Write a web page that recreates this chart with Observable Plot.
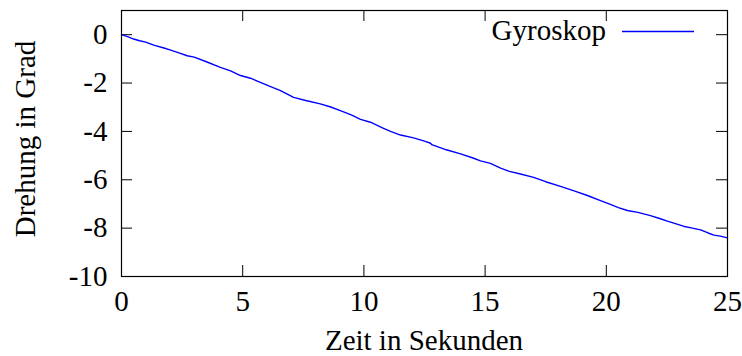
<!DOCTYPE html>
<html><head><meta charset="utf-8">
<script src="https://cdn.jsdelivr.net/npm/d3@7"></script>
<script src="https://cdn.jsdelivr.net/npm/@observablehq/plot@0.6"></script>
<style>body{margin:0;background:#fff;} svg{display:block;} svg text{font-family:"Liberation Serif", serif !important;}</style>
</head><body><div id="chart"></div>
<script>
const timeValues = [0,0.25,0.5,0.75,1.0,1.33,1.75,2.0,2.4,2.71,3.0,3.5,4.08,4.5,4.91,5.32,5.73,6.1,6.56,7.1,7.6,8.2,8.6,9.03,9.5,9.86,10.27,10.81,11.1,11.51,12.05,12.5,12.75,12.8,13.4,13.99,14.5,14.81,15.22,15.64,16.0,16.46,17.0,17.5,18.11,18.7,19.22,19.76,20.17,20.5,20.87,21.3,21.82,22.2,22.52,23.18,23.5,23.89,24.2,24.44,24.7,25];
const angleValues = [0,-0.08,-0.18,-0.25,-0.31,-0.43,-0.55,-0.63,-0.76,-0.87,-0.93,-1.12,-1.35,-1.50,-1.69,-1.80,-1.97,-2.13,-2.31,-2.59,-2.72,-2.86,-2.98,-3.14,-3.33,-3.50,-3.62,-3.87,-4.00,-4.15,-4.27,-4.40,-4.49,-4.55,-4.76,-4.93,-5.10,-5.22,-5.32,-5.52,-5.65,-5.76,-5.90,-6.08,-6.27,-6.47,-6.65,-6.86,-7.02,-7.15,-7.27,-7.35,-7.48,-7.60,-7.71,-7.92,-7.99,-8.07,-8.20,-8.29,-8.33,-8.40];
const xTicks = [0,5,10,15,20,25];
const yTicks = [0,-2,-4,-6,-8,-10];
const seriesName = "Gyroskop";
const xLabel = "Zeit in Sekunden";
const yLabel = "Drehung in Grad";

const data = timeValues.map((t,i)=>({t, v: angleValues[i]}));
const W = 742, H = 356, mL = 121, mR = 15, mT = 10, mB = 80;
const fw = W - mL - mR, fh = H - mT - mB, tl = 11;
const font = "Liberation Serif";
const fs = 29;

const chart = Plot.plot({
  width: W, height: H,
  marginLeft: mL, marginRight: mR, marginTop: mT, marginBottom: mB,
  style: `font-family: 'Liberation Serif', serif; font-size: ${fs}px; color: #000; background: #fff;`,
  x: {domain: [0,25]},
  y: {domain: [-10,1]},
  marks: [
    Plot.axisX(xTicks, {tickSize: 0, tickPadding: 14, fontSize: fs, label: null, tickFormat: d => String(d)}),
    Plot.axisY(yTicks, {tickSize: 0, tickPadding: 14, fontSize: fs, label: null, tickFormat: d => String(d)}),
    Plot.ruleX(xTicks, {insetTop: fh - tl, stroke: "#000", strokeWidth: 1}),
    Plot.ruleX(xTicks, {insetBottom: fh - tl, stroke: "#000", strokeWidth: 1}),
    Plot.ruleY(yTicks, {insetRight: fw - tl, stroke: "#000", strokeWidth: 1}),
    Plot.ruleY(yTicks, {insetLeft: fw - tl, stroke: "#000", strokeWidth: 1}),
    Plot.line(data, {x: "t", y: "v", stroke: "#0000ff", strokeWidth: 1.4}),
    Plot.frame({stroke: "#000", strokeWidth: 1.2})
  ]
});
const svg = d3.select(chart);
svg.append("text").attr("x", mL + fw/2).attr("y", 350).attr("text-anchor","middle")
  .attr("font-family", font).attr("font-size", fs).attr("fill","#000").text(xLabel);
svg.append("text").attr("transform", `translate(35,${mT + fh/2 - 4}) rotate(-90)`).attr("text-anchor","middle")
  .attr("font-family", font).attr("font-size", fs).attr("fill","#000").text(yLabel);
svg.append("text").attr("x", 606).attr("y", 40).attr("text-anchor","end")
  .attr("font-family", font).attr("font-size", fs).attr("fill","#000").text(seriesName);
svg.append("line").attr("x1", 622).attr("x2", 694).attr("y1", 31.5).attr("y2", 31.5)
  .attr("stroke", "#0000ff").attr("stroke-width", 1.4);
document.getElementById("chart").appendChild(chart);
</script></body></html>
